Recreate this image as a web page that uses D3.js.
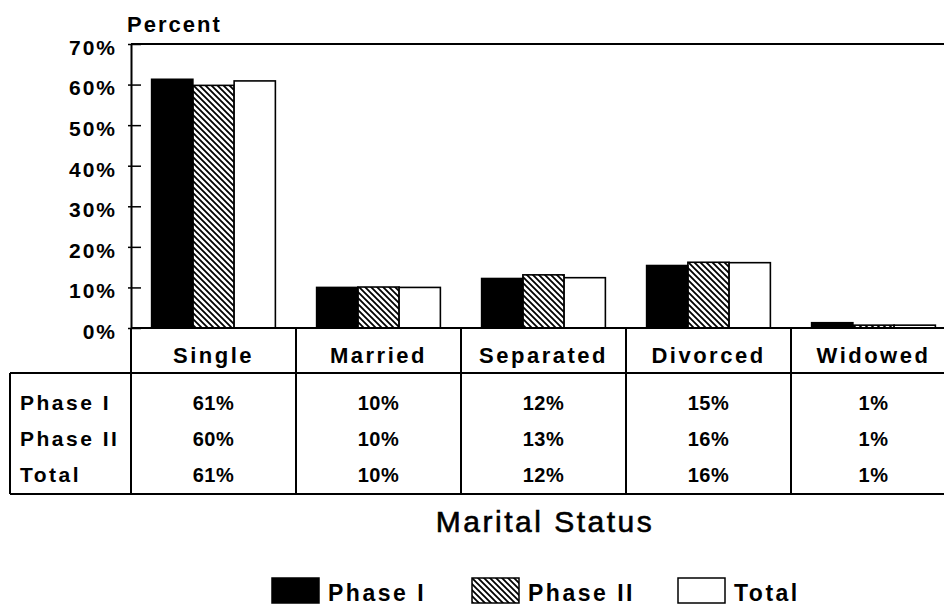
<!DOCTYPE html>
<html lang="en">
<head>
<meta charset="UTF-8">
<title>Marital Status</title>
<script src="https://d3js.org/d3.v7.min.js"></script>
<style>
  body { margin: 0; background: #fff; }
  svg { display: block; font-family: "Liberation Sans", Arial, sans-serif; }
  text { fill: #000; }
</style>
</head>
<body>
<svg width="944" height="606"></svg>
<script>
// data
const categories = ["Single", "Married", "Separated", "Divorced", "Widowed"];
const seriesNames = ["Phase I", "Phase II", "Total"];
const phase1 = [61.3, 10.0, 12.2, 15.4, 1.3];
const phase2 = [59.8, 10.1, 13.1, 16.2, 0.7];
const total  = [60.9, 10.0, 12.4, 16.1, 0.7];
const yTicks = [0, 10, 20, 30, 40, 50, 60, 70];

const seriesValues = [phase1, phase2, total];
const fills = ["#000", "url(#hatch)", "#fff"];

const svg = d3.select("svg");

// hatch pattern for Phase II
const defs = svg.append("defs");
defs.append("pattern")
    .attr("id", "hatch")
    .attr("patternUnits", "userSpaceOnUse")
    .attr("width", 6).attr("height", 6)
  .append("path")
    .attr("d", "M-1,-1 L7,7 M-1,5 L1,7 M5,-1 L7,1")
    .attr("stroke", "#000")
    .attr("stroke-width", 1.8);

// layout
const plotLeft = 131, bandW = 165, plotTop = 44, base = 328;
const headerBottom = 373, tableBottom = 494, tableLeft = 10;
const plotRight = plotLeft + bandW * categories.length;

const x0 = d3.scaleBand().domain(categories).range([plotLeft, plotRight]).paddingInner(0);
const x1 = d3.scaleBand().domain(seriesNames).range([0, x0.bandwidth()])
    .paddingInner(0).paddingOuter(0.5);
const y = d3.scaleLinear().domain([0, 70]).range([base, plotTop]);

// frame top line
svg.append("line")
    .attr("x1", plotLeft).attr("x2", 944).attr("y1", plotTop).attr("y2", plotTop)
    .attr("stroke", "#000").attr("stroke-width", 2);

// y axis
const yAxis = svg.append("g")
    .attr("transform", `translate(${plotLeft},0)`)
    .call(d3.axisLeft(y).tickValues(yTicks).tickFormat(d => d + "%")
        .tickSizeInner(-10).tickSizeOuter(0).tickPadding(14));
yAxis.select(".domain").attr("stroke", "#000").attr("stroke-width", 2);
yAxis.selectAll(".tick line").attr("stroke", "#000").attr("stroke-width", 1.5)
    .attr("x1", -3);
yAxis.selectAll(".tick text")
    .attr("dy", "0.35em").attr("y", 3)
    .style("font-size", "21px").style("font-weight", "bold")
    .style("letter-spacing", "2px").style("fill", "#000");

svg.append("text")
    .attr("x", 127).attr("y", 32)
    .style("font-size", "22px").style("font-weight", "bold")
    .style("letter-spacing", "2px")
    .text("Percent");

// bars
const groups = svg.selectAll("g.series")
    .data(seriesNames)
    .join("g")
    .attr("class", "series");

groups.each(function(s, si) {
    d3.select(this).selectAll("rect")
        .data(categories.map((c, ci) => ({ c, v: seriesValues[si][ci] })))
        .join("rect")
        .attr("x", d => x0(d.c) + x1(s))
        .attr("width", x1.bandwidth())
        .attr("y", d => y(d.v))
        .attr("height", d => y(0) - y(d.v))
        .attr("fill", fills[si])
        .attr("stroke", "#000")
        .attr("stroke-width", 1.6);
});

// table lines
const tl = svg.append("g").attr("stroke", "#000").attr("stroke-width", 2);
tl.append("line").attr("x1", plotLeft).attr("x2", 944).attr("y1", base).attr("y2", base);
tl.append("line").attr("x1", tableLeft).attr("x2", 944).attr("y1", headerBottom).attr("y2", headerBottom);
tl.append("line").attr("x1", tableLeft).attr("x2", 944).attr("y1", tableBottom).attr("y2", tableBottom);
tl.append("line").attr("x1", tableLeft).attr("x2", tableLeft).attr("y1", headerBottom).attr("y2", tableBottom);
tl.append("line").attr("x1", plotLeft).attr("x2", plotLeft).attr("y1", base).attr("y2", tableBottom);
tl.selectAll("line.col")
    .data(categories.slice(1))
    .join("line")
    .attr("class", "col")
    .attr("x1", d => x0(d)).attr("x2", d => x0(d))
    .attr("y1", base).attr("y2", tableBottom);

// header labels
svg.selectAll("text.cat")
    .data(categories)
    .join("text")
    .attr("class", "cat")
    .attr("x", d => x0(d) + x0.bandwidth() / 2)
    .attr("y", 363)
    .attr("text-anchor", "middle")
    .style("font-size", "22px").style("font-weight", "bold")
    .style("letter-spacing", "2.5px")
    .text(d => d);

// table rows
const rowY = [410, 446, 482];
seriesNames.forEach((s, si) => {
    svg.append("text")
        .attr("x", 20).attr("y", rowY[si])
        .style("font-size", "21px").style("font-weight", "bold")
        .style("letter-spacing", "2.5px")
        .text(s);
    svg.selectAll("text.val" + si)
        .data(categories)
        .join("text")
        .attr("class", "val" + si)
        .attr("x", d => x0(d) + x0.bandwidth() / 2)
        .attr("y", rowY[si])
        .attr("text-anchor", "middle")
        .style("font-size", "20px").style("font-weight", "bold")
        .style("letter-spacing", "0.5px")
        .text((d, ci) => Math.round(seriesValues[si][ci]) + "%");
});

// x title
svg.append("text")
    .attr("x", 545).attr("y", 532)
    .attr("text-anchor", "middle")
    .style("font-size", "30px")
    .style("letter-spacing", "2.5px")
    .style("stroke", "#000").style("stroke-width", 0.6)
    .text("Marital Status");

// legend
const legendX = [272, 472, 678];
const leg = svg.selectAll("g.legend")
    .data(seriesNames)
    .join("g")
    .attr("class", "legend")
    .attr("transform", (d, i) => `translate(${legendX[i]},578)`);
leg.append("rect")
    .attr("width", 47).attr("height", 25)
    .attr("fill", (d, i) => fills[i])
    .attr("stroke", "#000").attr("stroke-width", 1.5);
leg.append("text")
    .attr("x", 56).attr("y", 23)
    .style("font-size", "23px").style("font-weight", "bold")
    .style("letter-spacing", "2.5px")
    .text(d => d);
</script>
</body>
</html>
